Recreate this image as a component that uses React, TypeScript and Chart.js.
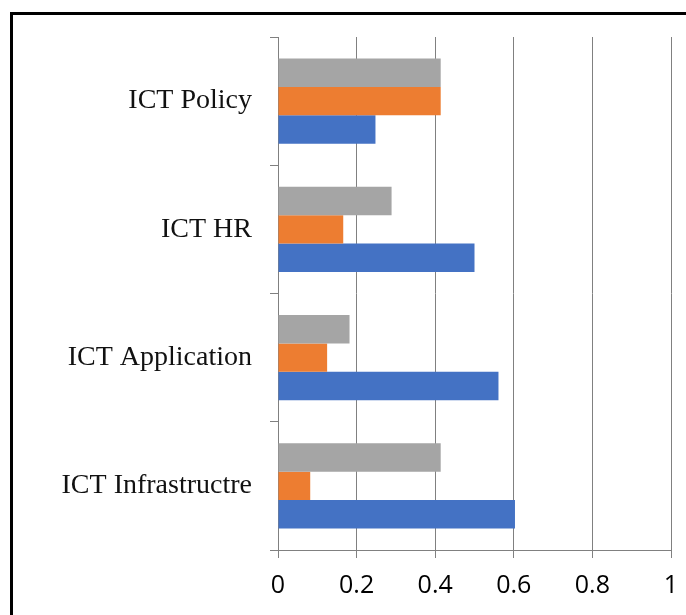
import React, { useEffect, useRef } from "react";
import { Chart, registerables } from "chart.js";

Chart.register(...registerables);

const categories = ["ICT Policy", "ICT HR", "ICT Application", "ICT Infrastructre"];
const grayValues = [0.414, 0.289, 0.182, 0.414];
const orangeValues = [0.414, 0.166, 0.125, 0.082];
const blueValues = [0.248, 0.5, 0.561, 0.603];
const xTicks = [0, 0.2, 0.4, 0.6, 0.8, 1];

export default function App() {
  const ref = useRef<HTMLCanvasElement | null>(null);

  useEffect(() => {
    if (!ref.current) return;
    const chart = new Chart(ref.current, {
      type: "bar",
      data: {
        labels: categories,
        datasets: [
          { label: "Series 3", data: grayValues, backgroundColor: "#A5A5A5" },
          { label: "Series 2", data: orangeValues, backgroundColor: "#ED7D31" },
          { label: "Series 1", data: blueValues, backgroundColor: "#4472C4" },
        ],
      },
      options: {
        indexAxis: "y",
        responsive: false,
        animation: false,
        devicePixelRatio: 1,
        categoryPercentage: 0.663,
        barPercentage: 1,
        layout: { padding: { left: 0, right: 15, top: 37, bottom: 0 } },
        plugins: { legend: { display: false }, tooltip: { enabled: false } },
        scales: {
          x: {
            type: "linear",
            min: 0,
            max: 1,
            afterBuildTicks: (scale: any) => {
              scale.ticks = xTicks.map((v) => ({ value: v }));
            },
            afterFit: (scale: any) => {
              scale.height = 65;
              scale.paddingLeft = 0;
              scale.paddingRight = 0;
            },
            grid: { color: "#808080", lineWidth: 1, tickLength: 8 },
            border: { color: "#808080", width: 1 },
            ticks: {
              color: "#000",
              padding: 13,
              font: { family: "'Open Sans', sans-serif", size: 25 },
              callback: (v: any) => String(v),
            },
          },
          y: {
            afterFit: (scale: any) => {
              scale.width = 278;
              scale.paddingTop = 0;
              scale.paddingBottom = 0;
            },
            grid: { drawOnChartArea: false, color: "#808080", tickLength: 8, offset: true },
            border: { color: "#808080", width: 1 },
            ticks: {
              color: "#111",
              padding: 18,
              font: { family: "'Liberation Serif', 'Times New Roman', serif", size: 28 },
            },
          },
        },
      },
    });
    return () => chart.destroy();
  }, []);

  return (
    <div style={{ position: "fixed", left: 0, top: 0, width: 686, height: 615, overflow: "hidden", background: "#fff" }}>
      <canvas ref={ref} width={686} height={615} style={{ position: "absolute", left: 0, top: 0 }} />
      <div
        style={{
          position: "absolute",
          left: 10,
          top: 12,
          width: 800,
          height: 800,
          borderLeft: "3px solid #000",
          borderTop: "3px solid #000",
          pointerEvents: "none",
        }}
      />
    </div>
  );
}
